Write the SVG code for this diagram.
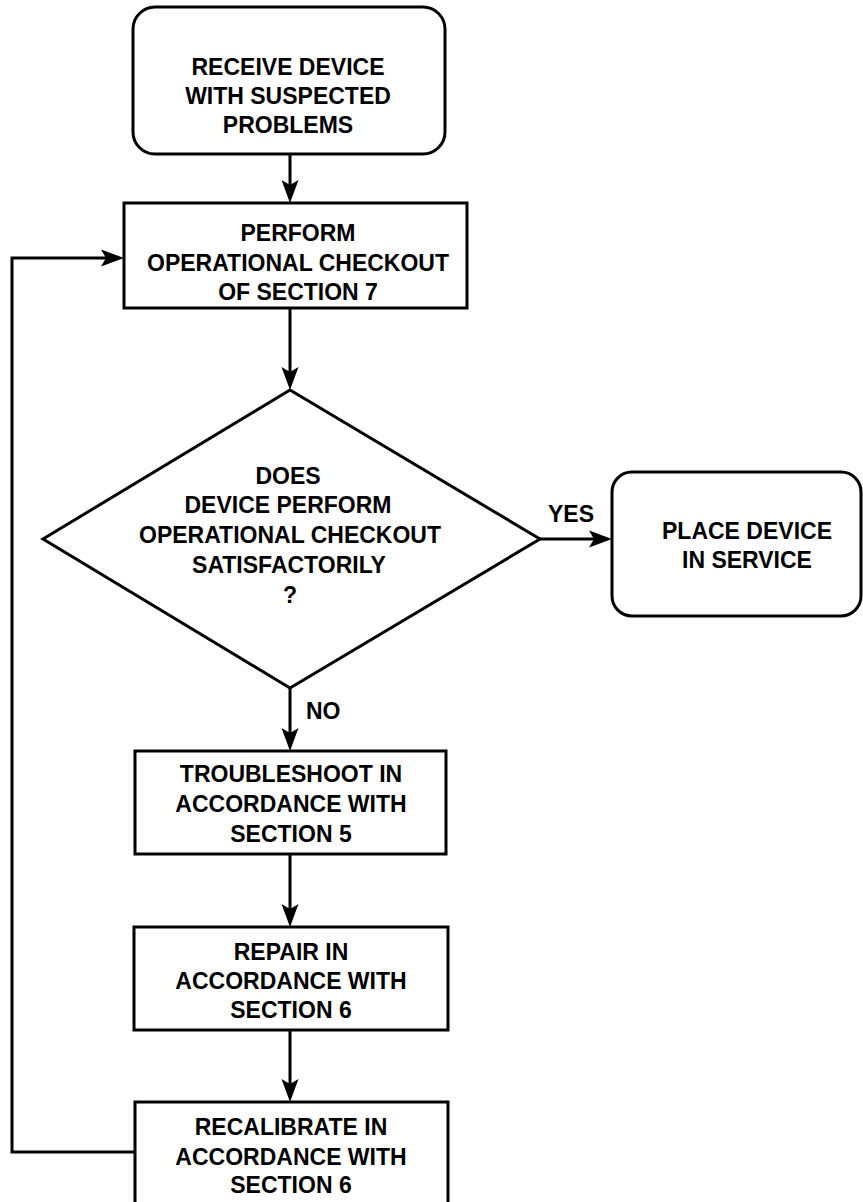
<svg xmlns="http://www.w3.org/2000/svg" width="863" height="1202" viewBox="0 0 863 1202">
  <defs>
    <style>
      .box { fill: #ffffff; stroke: #000000; stroke-width: 3; }
      .conn { fill: none; stroke: #000000; stroke-width: 3; }
      text { font-family: "Liberation Sans", Arial, sans-serif; font-weight: bold; font-size: 23px; fill: #000000; text-anchor: middle; }
      .lbl { text-anchor: start; }
    </style>
    <marker id="arrow" markerUnits="userSpaceOnUse" viewBox="-20 -10 28 20" refX="0" refY="0" markerWidth="28" markerHeight="20" orient="auto">
      <path d="M6,0 L-17,-8.5 L-12,0 L-17,8.5 Z" fill="#000000"/>
    </marker>
  </defs>
  <rect width="863" height="1202" fill="#ffffff"/>

  <g id="connectors">
    <path class="conn" d="M290,154 L290,197" marker-end="url(#arrow)"/>
    <path class="conn" d="M290,308 L290,384" marker-end="url(#arrow)"/>
    <path class="conn" d="M540,539 L606,539" marker-end="url(#arrow)"/>
    <path class="conn" d="M290,688 L290,745" marker-end="url(#arrow)"/>
    <path class="conn" d="M290,854 L290,921" marker-end="url(#arrow)"/>
    <path class="conn" d="M290,1030 L290,1096" marker-end="url(#arrow)"/>
    <path class="conn" d="M135,1152 L12,1152 L12,258 L118,258" marker-end="url(#arrow)"/>
    <text class="lbl" x="548" y="522">YES</text>
    <text class="lbl" x="306" y="719">NO</text>
  </g>

  <g id="receive">
    <rect class="box" x="133" y="7" width="312" height="147" rx="22" ry="22"/>
    <text x="288" y="75">RECEIVE DEVICE</text>
    <text x="288" y="104">WITH SUSPECTED</text>
    <text x="288" y="133">PROBLEMS</text>
  </g>

  <g id="perform">
    <rect class="box" x="124" y="203" width="343" height="105"/>
    <text x="298" y="241">PERFORM</text>
    <text x="298" y="271">OPERATIONAL CHECKOUT</text>
    <text x="298" y="300">OF SECTION 7</text>
  </g>

  <g id="decision">
    <polygon class="box" points="290,390 540,539 290,688 43,539"/>
    <text x="288" y="484">DOES</text>
    <text x="288" y="513">DEVICE PERFORM</text>
    <text x="290" y="543">OPERATIONAL CHECKOUT</text>
    <text x="289" y="573">SATISFACTORILY</text>
    <text x="290" y="603">?</text>
  </g>

  <g id="service">
    <rect class="box" x="612" y="472" width="249" height="144" rx="20" ry="20"/>
    <text x="747" y="539">PLACE DEVICE</text>
    <text x="747" y="568">IN SERVICE</text>
  </g>

  <g id="troubleshoot">
    <rect class="box" x="135" y="751" width="311" height="103"/>
    <text x="291" y="782">TROUBLESHOOT IN</text>
    <text x="291" y="812">ACCORDANCE WITH</text>
    <text x="291" y="842">SECTION 5</text>
  </g>

  <g id="repair">
    <rect class="box" x="134" y="927" width="314" height="103"/>
    <text x="291" y="960">REPAIR IN</text>
    <text x="291" y="989">ACCORDANCE WITH</text>
    <text x="291" y="1018">SECTION 6</text>
  </g>

  <g id="recalibrate">
    <rect class="box" x="135" y="1102" width="313" height="110"/>
    <text x="291" y="1135">RECALIBRATE IN</text>
    <text x="291" y="1165">ACCORDANCE WITH</text>
    <text x="291" y="1193">SECTION 6</text>
  </g>
</svg>
